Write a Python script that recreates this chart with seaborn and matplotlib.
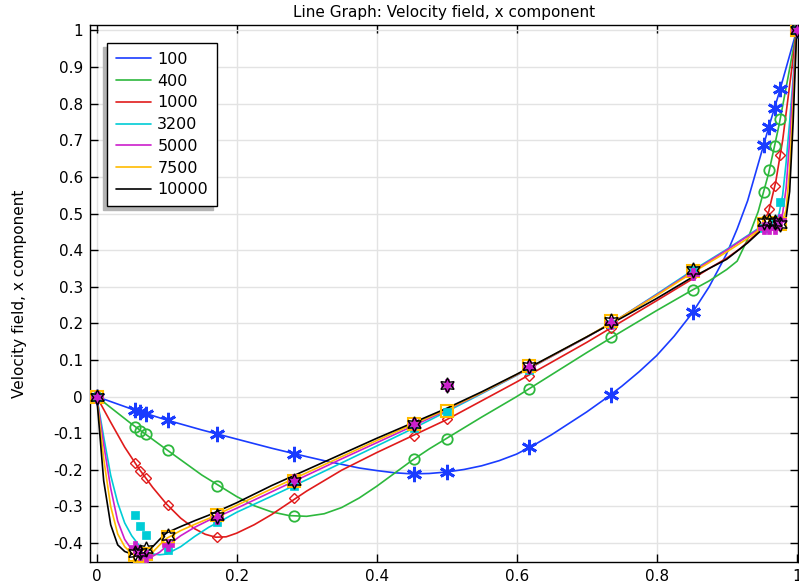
import matplotlib
matplotlib.use("Agg")
import matplotlib.pyplot as plt
import matplotlib.ticker as mticker
import seaborn as sns
import pandas as pd

# ---------------- data ----------------
labels = ["100", "400", "1000", "3200", "5000", "7500", "10000"]
colors = ["#1a3cff", "#2db83d", "#e01b1b", "#00ccd6", "#cc1fcc", "#ffbb00", "#000000"]

# simulated profiles
x_100 = [0, 0.05, 0.1, 0.15, 0.2, 0.25, 0.3, 0.325, 0.35, 0.375, 0.4, 0.425, 0.45, 0.475,
         0.5, 0.525, 0.55, 0.575, 0.6, 0.625, 0.65, 0.675, 0.7, 0.725, 0.75, 0.775, 0.8,
         0.825, 0.85, 0.875, 0.9, 0.915, 0.93, 0.945, 0.96, 0.975, 0.9875, 1.0]
line_100 = [0, -0.034, -0.064, -0.091, -0.116, -0.141, -0.164, -0.175, -0.185, -0.195,
            -0.202, -0.208, -0.211, -0.210, -0.206, -0.199, -0.189, -0.175, -0.157, -0.132,
            -0.104, -0.073, -0.042, -0.008, 0.028, 0.068, 0.112, 0.165, 0.226, 0.3, 0.39,
            0.458, 0.535, 0.635, 0.735, 0.83, 0.915, 1.0]

x_400 = [0, 0.05, 0.1, 0.15, 0.2, 0.225, 0.25, 0.275, 0.3, 0.325, 0.35, 0.375, 0.4, 0.425,
         0.45, 0.475, 0.5, 0.55, 0.6, 0.65, 0.7, 0.75, 0.8, 0.85, 0.875, 0.9, 0.915, 0.93,
         0.945, 0.96, 0.975, 0.9875, 1.0]
line_400 = [0, -0.075, -0.145, -0.214, -0.273, -0.298, -0.315, -0.325, -0.327, -0.32,
            -0.303, -0.277, -0.245, -0.21, -0.175, -0.143, -0.114, -0.056, 0.0, 0.06, 0.12,
            0.178, 0.235, 0.29, 0.316, 0.347, 0.37, 0.43, 0.505, 0.61, 0.743, 0.87, 1.0]

x_1000 = [0, 0.02, 0.04, 0.06, 0.08, 0.1, 0.12, 0.14, 0.155, 0.17, 0.185, 0.2, 0.225, 0.25,
          0.275, 0.3, 0.35, 0.4, 0.45, 0.5, 0.6, 0.7, 0.8, 0.85, 0.875, 0.9, 0.92, 0.94,
          0.95, 0.96, 0.97, 0.98, 0.99, 1.0]
line_1000 = [0, -0.07, -0.138, -0.196, -0.248, -0.294, -0.332, -0.361, -0.376, -0.384,
             -0.383, -0.373, -0.35, -0.322, -0.29, -0.258, -0.201, -0.153, -0.108, -0.063,
             0.04, 0.148, 0.262, 0.32, 0.35, 0.378, 0.405, 0.44, 0.465, 0.505, 0.585, 0.70,
             0.85, 1.0]

x_hi = [0, .01, .02, .03, .04, .05, .06, .07, .08, .09, .1, .12, .14, .16, .18, .2,
        .25, .3, .35, .4, .45, .5, .55, .6, .65, .7, .75, .8, .85, .9, .93, .95,
        .96, .97, .975, .98, .985, .99, .995, 1.0]
line_3200 = [0, -0.11, -0.215, -0.29, -0.345, -0.38, -0.405, -0.422, -0.43, -0.432, -0.43,
             -0.41, -0.382, -0.357, -0.337, -0.316, -0.272, -0.227, -0.181, -0.135, -0.089,
             -0.041, 0.008, 0.058, 0.11, 0.162, 0.218, 0.28, 0.343, 0.402, 0.44, 0.465,
             0.472, 0.48, 0.5, 0.55, 0.64, 0.75, 0.87, 1.0]
line_5000 = [0, -0.13, -0.25, -0.34, -0.39, -0.418, -0.43, -0.437, -0.436, -0.425, -0.408,
             -0.38, -0.357, -0.338, -0.322, -0.305, -0.26, -0.215, -0.17, -0.126, -0.082,
             -0.037, 0.01, 0.059, 0.11, 0.162, 0.218, 0.278, 0.34, 0.4, 0.438, 0.463,
             0.47, 0.475, 0.48, 0.5, 0.57, 0.7, 0.85, 1.0]
line_7500 = [0, -0.17, -0.3, -0.375, -0.41, -0.428, -0.435, -0.436, -0.425, -0.405, -0.387,
             -0.366, -0.349, -0.333, -0.315, -0.297, -0.252, -0.208, -0.164, -0.12, -0.077,
             -0.035, 0.011, 0.06, 0.111, 0.163, 0.218, 0.276, 0.337, 0.395, 0.432, 0.46,
             0.468, 0.474, 0.477, 0.482, 0.51, 0.62, 0.8, 1.0]
line_10000 = [0, -0.23, -0.35, -0.405, -0.423, -0.43, -0.432, -0.428, -0.41, -0.39, -0.372,
              -0.355, -0.339, -0.324, -0.307, -0.29, -0.243, -0.2, -0.157, -0.114, -0.073,
              -0.032, 0.013, 0.061, 0.112, 0.163, 0.215, 0.268, 0.325, 0.375, 0.42, 0.455,
              0.465, 0.472, 0.476, 0.48, 0.49, 0.56, 0.75, 1.0]

# reference points (markers)
x_ref = [1.0, 0.9766, 0.9688, 0.9609, 0.9531, 0.8516, 0.7344, 0.6172, 0.5, 0.4531,
         0.2813, 0.1719, 0.1016, 0.0703, 0.0625, 0.0547, 0.0]
ref_100 = [1.0, 0.84123, 0.78871, 0.73722, 0.68717, 0.23151, 0.00332, -0.13641, -0.20581,
           -0.21090, -0.15662, -0.10150, -0.06434, -0.04775, -0.04192, -0.03717, 0.0]
ref_400 = [1.0, 0.75837, 0.68439, 0.61756, 0.55892, 0.29093, 0.16256, 0.02135, -0.11477,
           -0.17119, -0.32726, -0.24299, -0.14612, -0.10338, -0.09266, -0.08186, 0.0]
ref_1000 = [1.0, 0.65928, 0.57492, 0.51117, 0.46604, 0.33304, 0.18719, 0.05702, -0.06080,
            -0.10648, -0.27805, -0.38289, -0.29730, -0.22220, -0.20196, -0.18109, 0.0]
ref_3200 = [1.0, 0.53236, 0.48296, 0.46547, 0.46101, 0.34682, 0.19791, 0.07156, -0.04272,
            -0.08664, -0.24427, -0.34323, -0.41933, -0.37827, -0.35344, -0.32407, 0.0]
ref_5000 = [1.0, 0.48223, 0.46120, 0.45992, 0.46036, 0.33556, 0.20087, 0.08183, 0.03039,
            -0.07404, -0.22855, -0.33050, -0.40435, -0.43643, -0.42901, -0.41165, 0.0]
ref_7500 = [1.0, 0.47244, 0.47048, 0.47323, 0.47167, 0.34228, 0.20591, 0.08342, -0.03800,
            -0.07503, -0.23176, -0.32393, -0.38324, -0.43025, -0.43590, -0.43154, 0.0]
ref_10000 = [1.0, 0.47221, 0.47783, 0.48070, 0.47804, 0.34635, 0.20673, 0.08344, 0.03111,
             -0.07540, -0.23186, -0.32709, -0.38000, -0.41657, -0.42537, -0.42735, 0.0]

x_ticks = [0, 0.2, 0.4, 0.6, 0.8, 1]
y_ticks = [-0.4, -0.3, -0.2, -0.1, 0, 0.1, 0.2, 0.3, 0.4, 0.5, 0.6, 0.7, 0.8, 0.9, 1]

line_x = [x_100, x_400, x_1000, x_hi, x_hi, x_hi, x_hi]
lines = [line_100, line_400, line_1000, line_3200, line_5000, line_7500, line_10000]
refs = [ref_100, ref_400, ref_1000, ref_3200, ref_5000, ref_7500, ref_10000]

# ---------------- style ----------------
sns.set_theme(style="whitegrid")
plt.rcParams["font.family"] = ["DejaVu Sans"]
plt.rcParams["axes.unicode_minus"] = False

fig = plt.figure(figsize=(7.99, 5.88), dpi=100)
ax = fig.add_axes([0.1126, 0.0447, 0.8862, 0.9128])

for lab, col, xs, ys in zip(labels, colors, line_x, lines):
    df = pd.DataFrame({"x": xs, "y": ys})
    sns.lineplot(data=df, x="x", y="y", ax=ax, color=col, lw=1.2, sort=False,
                 estimator=None, label=lab)

marker_styles = [
    dict(marker=(6, 2, 0), ms=11, mew=2.0, mfc="none"),
    dict(marker="o", ms=7.5, mew=1.3, mfc="none"),
    dict(marker="D", ms=5.5, mew=1.0, mfc="none"),
    dict(marker="s", ms=6.0, mew=0.5, mfc=None),
    None,
    dict(marker="s", ms=8.0, mew=1.5, mfc="none"),
    None,
]
order = [0, 1, 2, 3, 5, 4, 6]
for i in order:
    col = colors[i]
    if i == 4:
        ax.plot(x_ref, refs[i], ls="none", marker="P", ms=8, mfc=col, mec=col, mew=0.5, zorder=4)
    elif i == 6:
        ax.plot(x_ref, refs[i], ls="none", marker=(6, 1, 0), ms=11, mfc="none", mec=col,
                mew=1.0, zorder=5)
    else:
        st = marker_styles[i]
        ax.plot(x_ref, refs[i], ls="none", marker=st["marker"], ms=st["ms"], mew=st["mew"],
                mfc=(col if st["mfc"] is None else "none"), mec=col, zorder=3)

ax.set_xlim(-0.0096, 1.002)
ax.set_ylim(-0.451, 1.015)
ax.set_xticks(x_ticks)
ax.set_yticks(y_ticks)
fmt = mticker.FuncFormatter(lambda v, p: f"{v:g}")
ax.xaxis.set_major_formatter(fmt)
ax.yaxis.set_major_formatter(fmt)
ax.tick_params(direction="in", length=6, width=1, colors="black", labelsize=11,
               top=True, right=True, bottom=True, left=True, pad=5)
ax.grid(True, color="#e3e3e3", lw=1)
for s in ax.spines.values():
    s.set_color("black")
    s.set_linewidth(1.0)
ax.set_facecolor("white")
ax.set_xlabel("")
ax.set_ylabel("Velocity field, x component", fontsize=11, color="black", labelpad=19)
ax.set_title("Line Graph: Velocity field, x component", fontsize=11, color="black", pad=6)

leg = ax.legend(loc="upper left", bbox_to_anchor=(0.024, 0.966), borderaxespad=0,
                fontsize=11.5, frameon=True, fancybox=False, edgecolor="black",
                framealpha=1, handlelength=2.2, handletextpad=0.4, labelspacing=0.42,
                borderpad=0.55,
                shadow={"ox": -3, "oy": -3, "color": "#b4b4b4", "alpha": 1})
leg.get_frame().set_linewidth(1.0)
for t in leg.get_texts():
    t.set_color("black")

fig.savefig("out.png", dpi=100)
